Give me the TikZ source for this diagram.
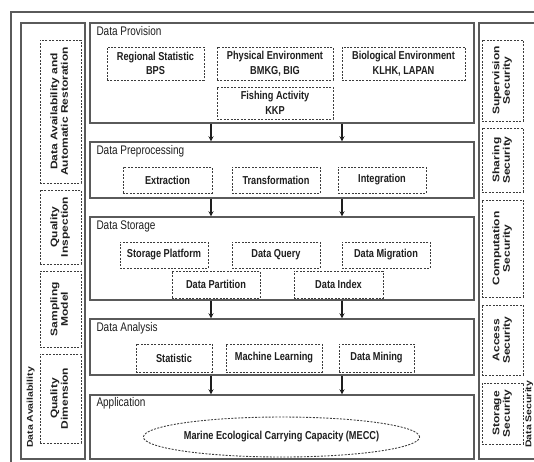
\documentclass[tikz,border=0pt]{standalone}
\usepackage{fontspec}
\usepackage{graphicx}
\usetikzlibrary{shapes.geometric}
\setmainfont[FakeStretch=0.8]{Liberation Sans}
\newfontfamily\vfont{Liberation Sans}
\definecolor{linegray}{HTML}{5A5A5A}
\definecolor{dashgray}{HTML}{3C3C3C}
\definecolor{inkgray}{HTML}{1E1E1E}
% text set bottom-to-top, squeezed across the line like the rest
\newcommand{\uptext}[1]{\rotatebox{90}{\scalebox{1}[0.8]{\begin{tabular}{@{}c@{}}#1\end{tabular}}}}
\begin{document}
\begin{tikzpicture}[>=stealth, x=1pt, y=-1pt,
  layer/.style={draw=linegray, line width=1.4pt, inner sep=0pt},
  ttl/.style={anchor=north west, inner sep=0pt, text=inkgray, font=\fontsize{12.5}{14}\selectfont},
  dbox/.style={draw=dashgray, line width=0.9pt, dash pattern=on 2pt off 1.4pt, inner sep=0pt,
    align=center, text=inkgray, font=\bfseries\fontsize{11.5}{14.5}\selectfont},
  vbox/.style={dbox, font=\vfont\bfseries\fontsize{12}{13}\selectfont},
  arr/.style={->, draw=inkgray, line width=1.2pt}]
  \useasboundingbox (0,0) rectangle (534,461);
  \clip (0,0) rectangle (534,461);
  % outer frame, runs off the page
  \draw[draw=linegray, line width=1.4pt] (11,12) rectangle (560,480);
  % side panels
  \node[layer, minimum width=64pt, minimum height=436pt] (availpanel) at (53,241) {};
  \node[layer, minimum width=80pt, minimum height=436pt] (securepanel) at (519,241) {};
  \node[anchor=south, inner sep=0pt, text=inkgray, font=\vfont\bfseries\fontsize{10.5}{12}\selectfont]
    (availttl) at (31,448) {\uptext{Data Availability}};
  \node[anchor=south, inner sep=0pt, text=inkgray, font=\vfont\bfseries\fontsize{10.5}{12}\selectfont]
    (securettl) at (529.5,448) {\uptext{Data Security}};
  % data availability items
  \node[vbox, minimum width=41pt, minimum height=143pt] (restore) at (60.5,111.5) {\uptext{Data Availability and\\Automatic Restoration}};
  \node[vbox, minimum width=41pt, minimum height=74pt] (inspect) at (60.5,227) {\uptext{Quality\\Inspection}};
  \node[vbox, minimum width=41pt, minimum height=76pt] (sampling) at (60.5,309) {\uptext{Sampling\\Model}};
  \node[vbox, minimum width=41pt, minimum height=89pt] (qualdim) at (60.5,398.5) {\uptext{Quality\\Dimension}};
  % data security items
  \node[vbox, minimum width=41pt, minimum height=81pt] (supervise) at (502.5,80.5) {\uptext{Supervision\\Security}};
  \node[vbox, minimum width=41pt, minimum height=64pt] (sharing) at (502.5,160) {\uptext{Sharing\\Security}};
  \node[vbox, minimum width=41pt, minimum height=97pt] (compute) at (502.5,248.5) {\uptext{Computation\\Security}};
  \node[vbox, minimum width=41pt, minimum height=70pt] (access) at (502.5,340) {\uptext{Access\\Security}};
  \node[vbox, minimum width=41pt, minimum height=61pt] (storesec) at (502.5,413.5) {\uptext{Storage\\Security}};
  % layers of the middle column
  \node[layer, minimum width=384pt, minimum height=100pt] (prov) at (282,73) {};
  \node[layer, minimum width=384pt, minimum height=56pt] (prep) at (282,170) {};
  \node[layer, minimum width=384pt, minimum height=83pt] (stor) at (282,258.5) {};
  \node[layer, minimum width=384pt, minimum height=56pt] (anal) at (282,347) {};
  \node[layer, minimum width=384pt, minimum height=64pt] (appl) at (282,427) {};
  \node[ttl] (provttl) at ([xshift=7pt, yshift=-4pt]prov.north west) {Data Provision};
  \node[ttl] (prepttl) at ([xshift=7pt, yshift=-4pt]prep.north west) {Data Preprocessing};
  \node[ttl] (storttl) at ([xshift=7pt, yshift=-4pt]stor.north west) {Data Storage};
  \node[ttl] (analttl) at ([xshift=7pt, yshift=-4pt]anal.north west) {Data Analysis};
  \node[ttl] (applttl) at ([xshift=7pt, yshift=-3pt]appl.north west) {Application};
  % provision sources
  \node[dbox, minimum width=97pt, minimum height=33pt] (bps) at (155.5,63.5) {Regional Statistic\\BPS};
  \node[dbox, minimum width=116pt, minimum height=33pt] (bmkg) at (275,63.5) {Physical Environment\\BMKG, BIG};
  \node[dbox, minimum width=123pt, minimum height=33pt] (klhk) at (403.5,63.5) {Biological Environment\\KLHK, LAPAN};
  \node[dbox, minimum width=116pt, minimum height=32pt] (kkp) at (275,103) {Fishing Activity\\KKP};
  % preprocessing steps
  \node[dbox, minimum width=89pt, minimum height=26pt] (extract) at (167.5,180) {Extraction};
  \node[dbox, minimum width=88pt, minimum height=26pt] (transform) at (276,180) {Transformation};
  \node[dbox, minimum width=88pt, minimum height=26pt] (integrate) at (382,180) {Integration};
  % storage parts
  \node[dbox, minimum width=88pt, minimum height=26pt] (platform) at (164,255) {Storage Platform};
  \node[dbox, minimum width=88pt, minimum height=26pt] (query) at (276,255) {Data Query};
  \node[dbox, minimum width=88pt, minimum height=26pt] (migrate) at (386,255) {Data Migration};
  \node[dbox, minimum width=88pt, minimum height=27pt] (partition) at (216,284.5) {Data Partition};
  \node[dbox, minimum width=89pt, minimum height=27pt] (index) at (338.5,284.5) {Data Index};
  % analysis methods
  \node[dbox, minimum width=76pt, minimum height=28pt] (statistic) at (174,358) {Statistic};
  \node[dbox, minimum width=96pt, minimum height=28pt] (learning) at (274,358) {Machine Learning};
  \node[dbox, minimum width=75pt, minimum height=28pt] (mining) at (376.5,358) {Data Mining};
  % application
  \node[dbox, ellipse, minimum width=229pt, minimum height=40pt] (mecc) at (281.5,437) {Marine Ecological Carrying Capacity (MECC)};
  % flow between layers
  \coordinate (la) at (211,0);
  \coordinate (ra) at (342,0);
  \draw[arr] (prov.south -| la) -- (prep.north -| la);
  \draw[arr] (prov.south -| ra) -- (prep.north -| ra);
  \draw[arr] (prep.south -| la) -- (stor.north -| la);
  \draw[arr] (prep.south -| ra) -- (stor.north -| ra);
  \draw[arr] (stor.south -| la) -- (anal.north -| la);
  \draw[arr] (stor.south -| ra) -- (anal.north -| ra);
  \draw[arr] (anal.south -| la) -- (appl.north -| la);
  \draw[arr] (anal.south -| ra) -- (appl.north -| ra);
\end{tikzpicture}
\end{document}
